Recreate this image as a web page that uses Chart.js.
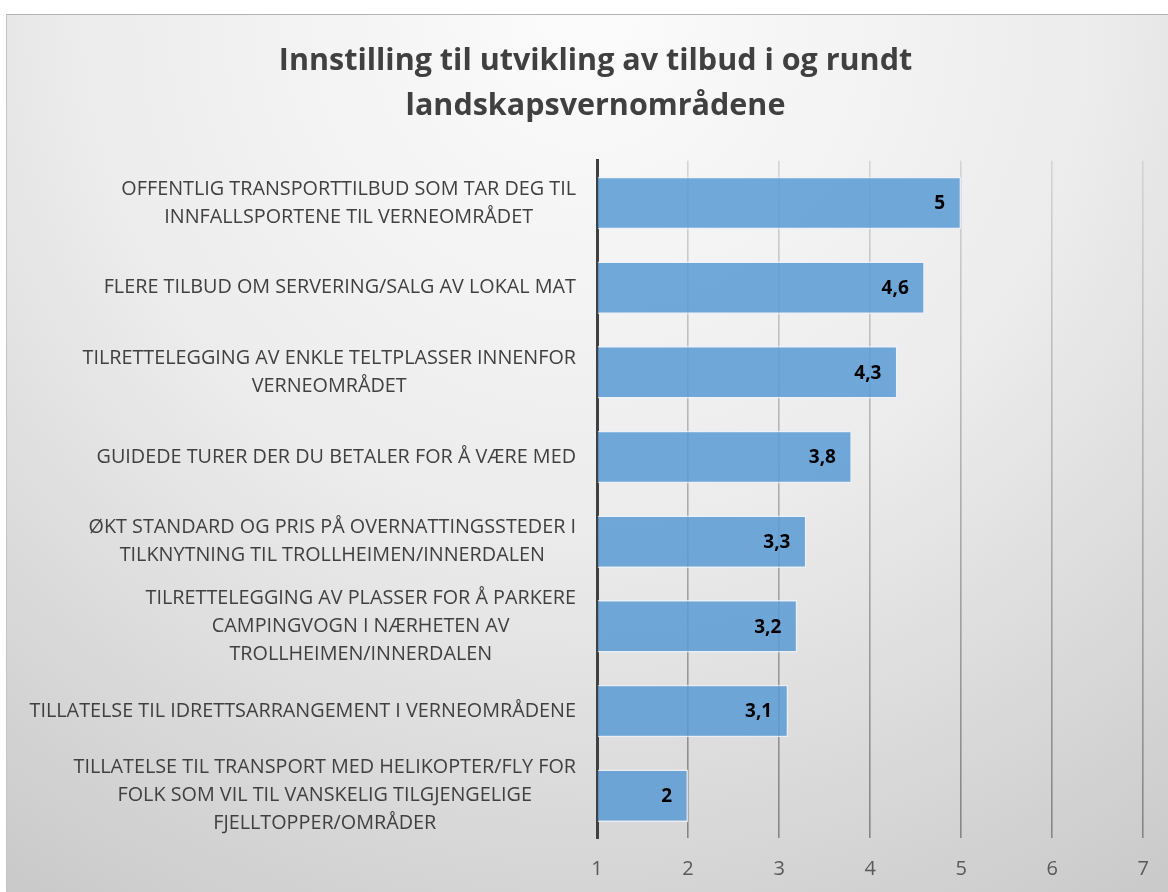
<!DOCTYPE html>
<html>
<head>
<meta charset="utf-8">
<script src="https://cdn.jsdelivr.net/npm/chart.js@4"></script>
<style>
  html, body { margin: 0; padding: 0; background: #fff; }
  #wrap {
    position: absolute; left: 6px; top: 14px;
    width: 1162px; height: 878px;
    border-top: 1px solid #b4b4b4; border-left: 1px solid #c4c4c4;
    box-sizing: border-box;
  }
</style>
</head>
<body>
<div id="wrap"><canvas id="chart"></canvas></div>
<script>
'use strict';

var categories = [
    ['OFFENTLIG TRANSPORTTILBUD SOM TAR DEG TIL', 'INNFALLSPORTENE TIL VERNEOMRÅDET'],
    ['FLERE TILBUD OM SERVERING/SALG AV LOKAL MAT'],
    ['TILRETTELEGGING AV ENKLE TELTPLASSER INNENFOR', 'VERNEOMRÅDET'],
    ['GUIDEDE TURER DER DU BETALER FOR Å VÆRE MED'],
    ['ØKT STANDARD OG PRIS PÅ OVERNATTINGSSTEDER I', 'TILKNYTNING TIL TROLLHEIMEN/INNERDALEN'],
    ['TILRETTELEGGING AV PLASSER FOR Å PARKERE', 'CAMPINGVOGN I NÆRHETEN AV', 'TROLLHEIMEN/INNERDALEN'],
    ['TILLATELSE TIL IDRETTSARRANGEMENT I VERNEOMRÅDENE'],
    ['TILLATELSE TIL TRANSPORT MED HELIKOPTER/FLY FOR', 'FOLK SOM VIL TIL VANSKELIG TILGJENGELIGE', 'FJELLTOPPER/OMRÅDER']
];
var values = [5, 4.6, 4.3, 3.8, 3.3, 3.2, 3.1, 2];
var titleLines = ['Innstilling til utvikling av tilbud i og rundt', 'landskapsvernområdene'];
var axisMin = 1;
var axisMax = 7;

var fontFamily = '"Open Sans", Lato, "DejaVu Sans", sans-serif';
var textColor  = '#404040';

function fmt(v) { return String(v).replace('.', ','); }

// background: soft radial grey gradient
var bgPlugin = {
    id: 'bg',
    beforeDraw: function (chart) {
        var c = chart.ctx, w = chart.width, h = chart.height;
        var g = c.createRadialGradient(w * 0.5, 0, 20, w * 0.5, 0, w * 0.95);
        g.addColorStop(0, '#fbfbfb');
        g.addColorStop(0.45, '#ececec');
        g.addColorStop(1, '#c6c6c6');
        c.save();
        c.fillStyle = g;
        c.fillRect(0, 0, w, h);
        c.restore();
    }
};

// category labels: block right aligned, lines centred inside the block
var catLabelPlugin = {
    id: 'catLabels',
    afterDraw: function (chart) {
        var c = chart.ctx, y = chart.scales.y;
        var right = chart.chartArea.left - 21;
        var lh = 28;
        c.save();
        c.font = '19.8px ' + fontFamily;
        c.fillStyle = textColor;
        c.textAlign = 'center';
        c.textBaseline = 'middle';
        categories.forEach(function (lines, i) {
            var maxW = 0;
            lines.forEach(function (l) { maxW = Math.max(maxW, c.measureText(l).width); });
            var cx = right - maxW / 2;
            var cy = y.getPixelForTick(i);
            var y0 = cy - (lines.length - 1) * lh / 2;
            lines.forEach(function (l, k) { c.fillText(l, cx, y0 + k * lh); });
        });
        c.restore();
    }
};

// value labels inside the end of each bar
var valueLabelPlugin = {
    id: 'valueLabels',
    afterDatasetsDraw: function (chart) {
        var c = chart.ctx, meta = chart.getDatasetMeta(0);
        c.save();
        c.font = 'bold 19px ' + fontFamily;
        c.fillStyle = '#000';
        c.textAlign = 'right';
        c.textBaseline = 'middle';
        meta.data.forEach(function (bar, i) {
            c.fillText(fmt(values[i]), bar.x - 16, bar.y + 1);
        });
        c.restore();
    }
};

function gridColor(ctx) {
    if (ctx.tick && ctx.tick.value === axisMin) return 'rgba(0,0,0,0)';
    var chart = ctx.chart, area = chart.chartArea;
    if (!area) return '#b0b0b0';
    var g = chart.ctx.createLinearGradient(0, area.top, 0, area.bottom);
    g.addColorStop(0, '#d4d4d4');
    g.addColorStop(1, '#858585');
    return g;
}

new Chart(document.getElementById('chart'), {
    type: 'bar',
    data: {
        labels: categories,
        datasets: [{
            data: values,
            base: axisMin,
            backgroundColor: 'rgba(91, 155, 213, 0.86)',
            borderColor: 'rgba(235, 243, 250, 0.8)',
            borderWidth: 1.5,
            categoryPercentage: 1,
            barPercentage: 0.62
        }]
    },
    options: {
        indexAxis: 'y',
        responsive: true,
        maintainAspectRatio: false,
        animation: false,
        layout: { padding: { top: 0, right: 24, bottom: 0, left: 40 } },
        plugins: {
            legend: { display: false },
            tooltip: { enabled: false },
            title: {
                display: true,
                text: titleLines,
                color: textColor,
                font: { family: fontFamily, size: 30.5, weight: 'bold', lineHeight: 1.47 },
                padding: { top: 24, bottom: 32 }
            }
        },
        scales: {
            x: {
                min: axisMin,
                max: axisMax,
                ticks: {
                    stepSize: 1,
                    color: '#595959',
                    padding: 19,
                    font: { family: fontFamily, size: 20 }
                },
                grid: { color: gridColor, lineWidth: 1.6, drawTicks: false },
                border: { display: false },
                afterFit: function (scale) { scale.height = 54; }
            },
            y: {
                ticks: { display: false },
                grid: { display: false },
                border: { display: true, color: textColor, width: 3 },
                afterFit: function (scale) { scale.width = 550; }
            }
        }
    },
    plugins: [bgPlugin, catLabelPlugin, valueLabelPlugin]
});
</script>
</body>
</html>
